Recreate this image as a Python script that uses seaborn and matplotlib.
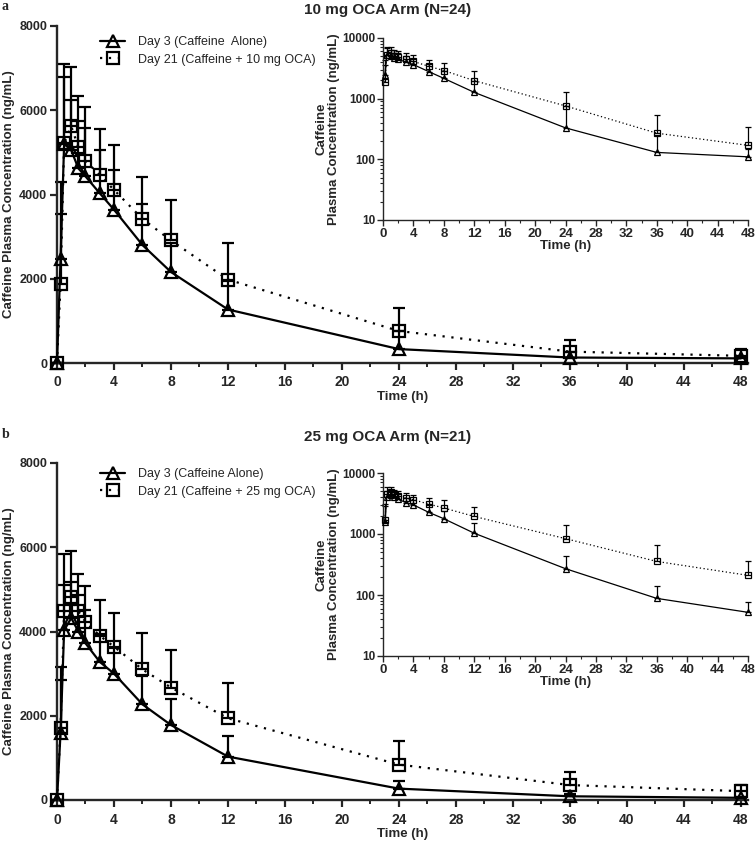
"""Caffeine plasma concentration profiles, 10 mg and 25 mg OCA arms."""

import matplotlib

matplotlib.use("Agg")

import matplotlib.pyplot as plt
import numpy as np
import seaborn as sns
from matplotlib.lines import Line2D
from matplotlib.ticker import FixedFormatter, FixedLocator, LogLocator, NullFormatter

sns.set_style("ticks")
plt.rcParams["font.family"] = ["Liberation Sans", "DejaVu Sans"]

NARROW = ["Liberation Sans Narrow", "Liberation Sans"]

# sampling times (h)
TIMES = [0, 0.25, 0.5, 1, 1.5, 2, 3, 4, 6, 8, 12, 24, 36, 48]

# 10 mg OCA arm (N=24): mean and SD, ng/mL
D3_MEAN_10 = [0, 2470, 5200, 5050, 4620, 4430, 4030, 3640, 2800, 2160, 1270, 330, 130, 110]
D3_SD_10 = [0, 1830, 1600, 1200, 1130, 1140, 1020, 940, 980, 690, 680, 430, 120, 40]
D21_MEAN_10 = [0, 1870, 5220, 5620, 5120, 4800, 4460, 4110, 3420, 2910, 1980, 760, 270, 170]
D21_SD_10 = [0, 1660, 1880, 1410, 1230, 1270, 1100, 1060, 1000, 970, 870, 540, 265, 165]

# 25 mg OCA arm (N=21)
D3_MEAN_25 = [0, 1600, 4030, 4320, 4000, 3720, 3280, 3000, 2270, 1780, 1030, 270, 88, 52]
D3_SD_25 = [0, 1250, 1070, 860, 870, 800, 670, 620, 680, 620, 480, 170, 54, 25]
D21_MEAN_25 = [0, 1700, 4490, 4830, 4480, 4230, 3900, 3640, 3100, 2670, 1940, 840, 355, 210]
D21_SD_25 = [0, 1450, 1360, 1070, 880, 840, 850, 800, 860, 880, 840, 570, 305, 155]

PANELS = [
    {
        "letter": "a",
        "title": "10 mg OCA Arm (N=24)",
        "labels": ["Day 3 (Caffeine  Alone)", "Day 21 (Caffeine + 10 mg OCA)"],
        "d3": (D3_MEAN_10, D3_SD_10),
        "d21": (D21_MEAN_10, D21_SD_10),
    },
    {
        "letter": "b",
        "title": "25 mg OCA Arm (N=21)",
        "labels": ["Day 3 (Caffeine Alone)", "Day 21 (Caffeine + 25 mg OCA)"],
        "d3": (D3_MEAN_25, D3_SD_25),
        "d21": (D21_MEAN_25, D21_SD_25),
    },
]

W, H = 756, 842
# pixel layout of each panel
LAYOUT = [
    {"main": (26, 363), "inset": (38, 220), "title": 10, "legend": 36},
    {"main": (463, 800), "inset": (473, 656), "title": 437, "legend": 468},
]
MAIN_X = (57, 748)
INSET_X = (383, 748)

STYLES = {
    "d3": {"marker": "^", "ms_main": 9, "ms_ins": 5},
    "d21": {"marker": "s", "ms_main": 8, "ms_ins": 4.5},
}


def fig_rect(x0, x1, y0, y1):
    return [x0 / W, 1 - y1 / H, (x1 - x0) / W, (y1 - y0) / H]


def draw_series(ax, t, mean, sd, style, lw, ms, cap, dots):
    t = np.asarray(t)
    mean = np.asarray(mean, dtype=float)
    sd = np.asarray(sd, dtype=float)
    eb = ax.errorbar(
        t, mean, yerr=[np.zeros_like(sd), sd], fmt="none", ecolor="black",
        elinewidth=lw, capsize=cap, capthick=lw, zorder=2,
    )
    for art in list(eb.lines[1]) + list(eb.lines[2]):
        art.set_clip_on(False)
    ls = "-" if style["marker"] == "^" else (0, dots)
    sns.lineplot(
        x=t, y=mean, ax=ax, color="black", linewidth=lw, linestyle=ls,
        marker=style["marker"], markersize=ms, markeredgewidth=lw,
        markerfacecolor="none", markeredgecolor="black", clip_on=False,
        zorder=3, legend=False,
    )


def style_ticklabels(ax, size):
    for lab in ax.get_xticklabels():
        lab.set_family(NARROW)
        lab.set_fontweight("bold")
        lab.set_fontsize(size + 1)
    for lab in ax.get_yticklabels():
        lab.set_fontweight("bold")
        lab.set_fontsize(size)


fig = plt.figure(figsize=(W / 100, H / 100), dpi=100)

for panel, lay in zip(PANELS, LAYOUT):
    # main linear panel
    ax = fig.add_axes(fig_rect(*MAIN_X, *lay["main"]))
    for key in ("d3", "d21"):
        mean, sd = panel[key]
        draw_series(ax, TIMES, mean, sd, STYLES[key], lw=1.6,
                    ms=STYLES[key]["ms_main"], cap=4, dots=(1, 3))
    ax.set_xlim(0, 48.5)
    ax.set_ylim(0, 8000)
    ax.xaxis.set_major_locator(FixedLocator(np.arange(0, 49, 4)))
    ax.xaxis.set_minor_locator(FixedLocator(np.arange(2, 48, 4)))
    ax.yaxis.set_major_locator(FixedLocator([0, 2000, 4000, 6000, 8000]))
    sns.despine(ax=ax)
    for s in ("left", "bottom"):
        ax.spines[s].set_linewidth(1.7)
    ax.tick_params(which="major", length=5, width=1.6)
    ax.tick_params(axis="x", which="major", pad=4)
    ax.tick_params(axis="y", which="major", pad=2)
    ax.tick_params(which="minor", length=3, width=1.4)
    style_ticklabels(ax, 9)
    ax.set_xlabel("Time (h)", fontsize=9.5, fontweight="bold", family=NARROW, labelpad=1)
    ax.set_ylabel("Caffeine Plasma Concentration (ng/mL)", fontsize=9.5, fontweight="bold")
    ax.yaxis.set_label_coords(-0.061, 0.5)

    handles = [
        Line2D([], [], color="black", lw=1.6, marker="^", ms=9, mew=1.6,
               mfc="none", linestyle="-"),
        Line2D([], [], color="black", lw=1.6, marker="s", ms=8, mew=1.6,
               mfc="none", linestyle=(0, (1, 3))),
    ]
    ax.legend(
        handles, panel["labels"], loc="upper left",
        bbox_to_anchor=(100 / W, 1 - lay["legend"] / H),
        bbox_transform=fig.transFigure, frameon=False, fontsize=9,
        handlelength=2.0, handletextpad=1.0, borderpad=0, borderaxespad=0,
        labelspacing=0.45,
    )

    # inset on log scale (t=0 omitted)
    ins = fig.add_axes(fig_rect(*INSET_X, *lay["inset"]))
    for key in ("d3", "d21"):
        mean, sd = panel[key]
        draw_series(ins, TIMES[1:], mean[1:], sd[1:], STYLES[key], lw=0.9,
                    ms=STYLES[key]["ms_ins"], cap=2, dots=(1, 2))
    ins.set_yscale("log")
    ins.set_ylim(10, 10000)
    ins.set_xlim(0, 48)
    ins.xaxis.set_major_locator(FixedLocator(np.arange(0, 49, 4)))
    ins.xaxis.set_minor_locator(FixedLocator(np.arange(2, 48, 4)))
    ins.yaxis.set_major_locator(FixedLocator([10, 100, 1000, 10000]))
    ins.yaxis.set_major_formatter(FixedFormatter(["10", "100", "1000", "10000"]))
    ins.yaxis.set_minor_locator(LogLocator(base=10, subs=np.arange(2, 10)))
    ins.yaxis.set_minor_formatter(NullFormatter())
    sns.despine(ax=ins)
    for s in ("left", "bottom"):
        ins.spines[s].set_linewidth(1.0)
    ins.tick_params(which="major", length=4, width=1.0, pad=1.5)
    ins.tick_params(which="minor", length=2, width=0.8)
    style_ticklabels(ins, 8.5)
    ins.set_xlabel("Time (h)", fontsize=9.5, fontweight="bold", family=NARROW, labelpad=0)
    ins.set_ylabel("Caffeine\nPlasma Concentration (ng/mL)", fontsize=9.5,
                   fontweight="bold", linespacing=1.0)
    ins.yaxis.set_label_coords(-0.118, 0.5)

    fig.text(388 / W, 1 - lay["title"] / H, panel["title"], ha="center", va="center",
             fontsize=11, fontweight="bold")
    fig.text(2 / W, 1 - (lay["title"] - 3) / H, panel["letter"], ha="left", va="center",
             fontsize=10, fontweight="bold", family=["Liberation Serif", "DejaVu Serif"])

fig.savefig("out.png", dpi=100)
